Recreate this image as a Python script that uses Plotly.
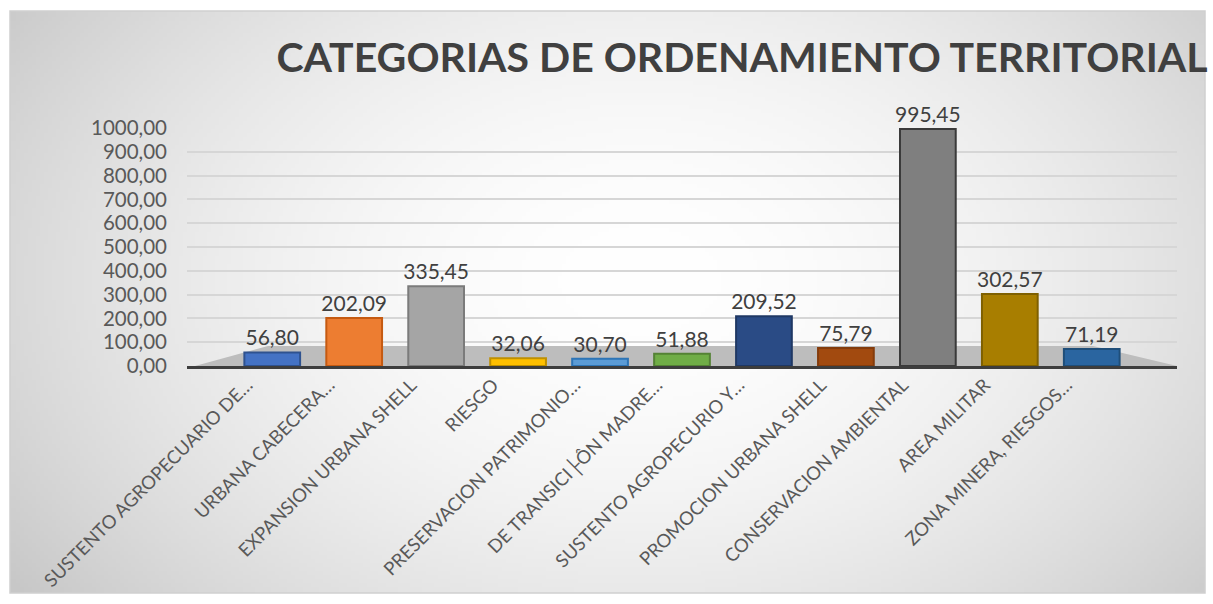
import zlib, struct, base64
import numpy as np
import plotly.graph_objects as go

# ---------------- data ----------------
categories = [
    "SUSTENTO AGROPECUARIO DE…",
    "URBANA CABECERA…",
    "EXPANSION URBANA SHELL",
    "RIESGO",
    "PRESERVACION PATRIMONIO…",
    "DE TRANSICI├ÔN MADRE…",
    "SUSTENTO AGROPECURIO Y…",
    "PROMOCION URBANA SHELL",
    "CONSERVACION AMBIENTAL",
    "AREA MILITAR",
    "ZONA MINERA, RIESGOS…",
]
values = [56.80, 202.09, 335.45, 32.06, 30.70, 51.88, 209.52, 75.79, 995.45, 302.57, 71.19]
bar_colors = ["#4472C4", "#ED7D31", "#A5A5A5", "#FFC000", "#5B9BD5", "#70AD47",
              "#2A4B85", "#A24A0F", "#7F7F7F", "#A87E00", "#2A65A0"]
line_colors = ["#2F528F", "#C55A11", "#7B7B7B", "#BF9000", "#2E75B6", "#548235",
               "#1F3864", "#843C0C", "#3A3A3A", "#7F6000", "#1F4E79"]
y_ticks = [0, 100, 200, 300, 400, 500, 600, 700, 800, 900, 1000]
title_text = "CATEGORIAS DE ORDENAMIENTO TERRITORIAL"

# ---------------- layout geometry ----------------
W, H = 1213, 604
L, R, T, B = 187, 36, 128, 238
pw, ph = W - L - R, H - T - B


def px_x(x):
    return (x - L) / pw


def px_y(y):
    return (H - B - y) / ph


# ---------------- background gradient image ----------------
def png_uri(arr):
    h, w, _ = arr.shape
    raw = b"".join(b"\x00" + arr[i].tobytes() for i in range(h))

    def chunk(t, d):
        return struct.pack(">I", len(d)) + t + d + struct.pack(">I", zlib.crc32(t + d) & 0xFFFFFFFF)

    png = (b"\x89PNG\r\n\x1a\n"
           + chunk(b"IHDR", struct.pack(">IIBBBBB", w, h, 8, 2, 0, 0, 0))
           + chunk(b"IDAT", zlib.compress(raw, 9))
           + chunk(b"IEND", b""))
    return "data:image/png;base64," + base64.b64encode(png).decode()


bx0, by0, bx1, by1 = 10, 11, 1205, 593
gw, gh = 300, 146
xs = np.linspace(bx0, bx1, gw)
ys = np.linspace(by0, by1, gh)
X, Y = np.meshgrid(xs, ys)
d = np.sqrt(((X - 640) / 660) ** 2 + ((Y - 280) / 450) ** 2)
d = np.clip(d, 0, 1.25) / 1.25
val = 255 - 62 * d ** 1.8
img = np.repeat(np.clip(val, 0, 255).astype(np.uint8)[:, :, None], 3, axis=2)
bg_uri = png_uri(img)

# ---------------- figure ----------------
fig = go.Figure()
fig.add_trace(go.Bar(
    x=categories,
    y=values,
    marker=dict(color=bar_colors, line=dict(color=line_colors, width=2)),
    width=0.68,
    texttemplate="%{y:.2f}",
    textposition="outside",
    constraintext="none",
    cliponaxis=False,
    textfont=dict(family="Lato", size=21, color="#404040"),
    hoverinfo="x+y",
))

fig.update_layout(
    width=W, height=H,
    margin=dict(l=L, r=R, t=T, b=B, pad=0, autoexpand=False),
    autosize=False,
    separators=",.",
    paper_bgcolor="white",
    plot_bgcolor="rgba(0,0,0,0)",
    showlegend=False,
    bargap=0.3,
    font=dict(family="Lato", color="#595959"),
    title=dict(
        text="<b>" + title_text + "</b>",
        x=742 / W, xanchor="center", xref="container",
        y=1 - 58 / H, yanchor="middle", yref="container",
        font=dict(family="Lato", size=41, color="#404040"),
    ),
    xaxis=dict(
        range=[-1.04, 11.04],
        tickangle=-45,
        tickfont=dict(family="Lato", size=18.5, color="#595959"),
        ticklabelstandoff=-2,
        ticklabelshift=-25,
        automargin=False,
        showgrid=False,
        showline=True, linecolor="#3d3d3d", linewidth=3,
        ticks="", fixedrange=True,
    ),
    yaxis=dict(
        range=[0, 1000],
        tickvals=y_ticks,
        tickformat=".2f",
        tickfont=dict(family="Lato", size=20.5, color="#595959"),
        ticklabelstandoff=19,
        automargin=False,
        showgrid=True, gridcolor="#d6d6d6", gridwidth=1.5,
        zeroline=False, showline=False, ticks="",
        fixedrange=True,
    ),
    images=[dict(
        source=bg_uri, xref="paper", yref="paper",
        x=px_x(bx0), y=px_y(by0),
        sizex=(bx1 - bx0) / pw, sizey=(by1 - by0) / ph,
        xanchor="left", yanchor="top", sizing="stretch", layer="below",
    )],
    shapes=[
        dict(type="rect", xref="paper", yref="paper",
             x0=px_x(bx0), x1=px_x(bx1), y0=px_y(by1), y1=px_y(by0),
             line=dict(color="#cfcfcf", width=1.5), fillcolor="rgba(0,0,0,0)", layer="below"),
        dict(type="path", xref="paper", yref="paper",
             path=("M {} {} L {} {} L {} {} L {} {} Z".format(
                 px_x(195), px_y(366), px_x(268), px_y(346),
                 px_x(1093), px_y(346), px_x(1177), px_y(366))),
             fillcolor="#bdbdbd", line=dict(width=0), layer="between"),
    ],
)

fig.write_html("out.html")
